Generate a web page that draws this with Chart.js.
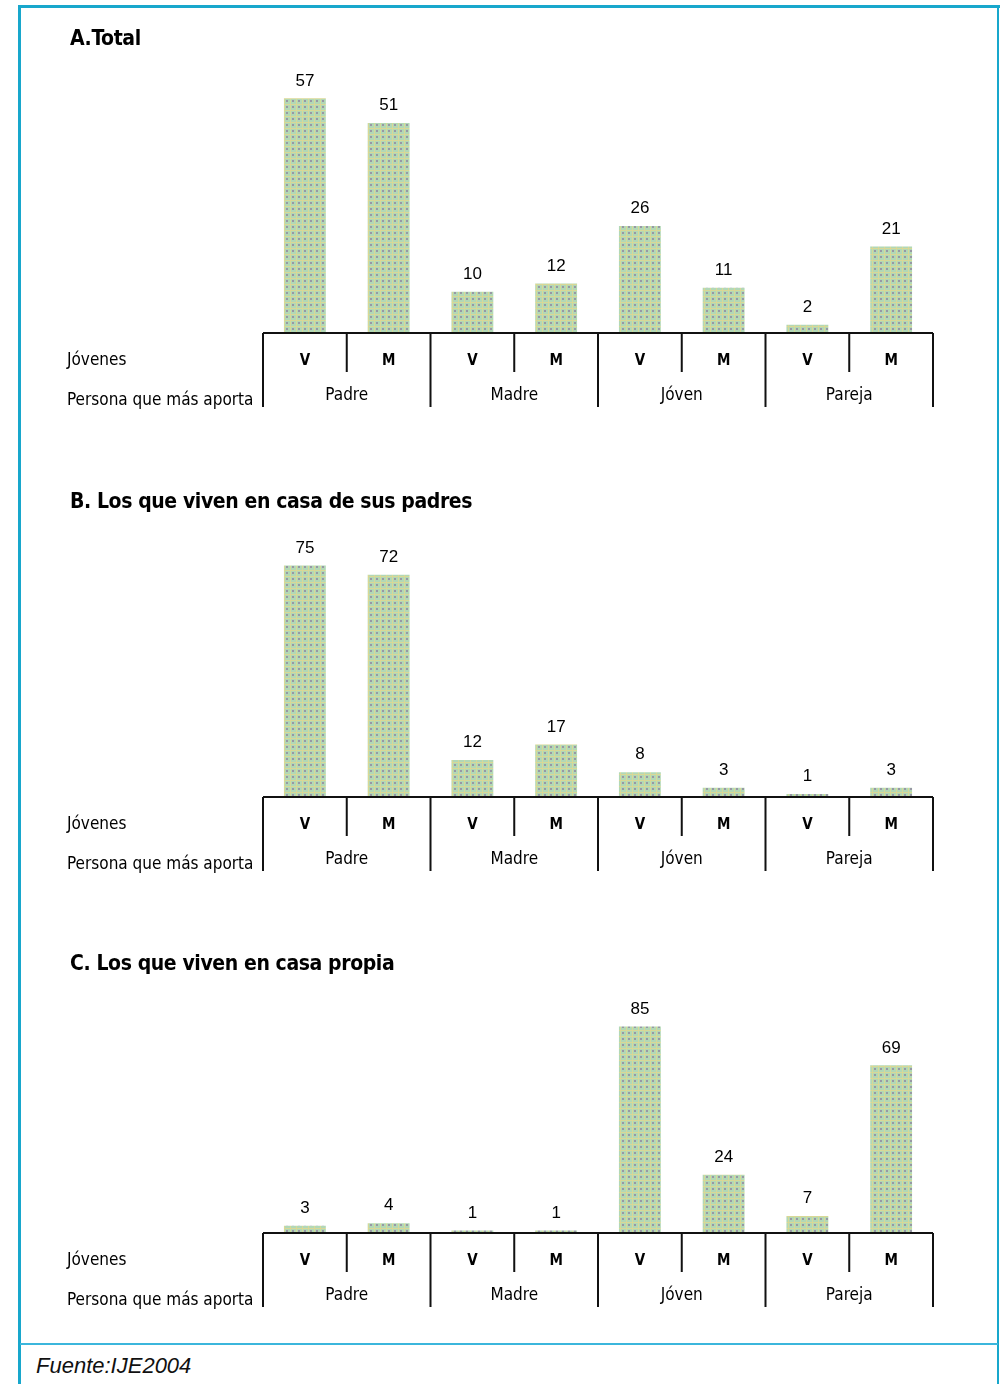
<!DOCTYPE html>
<html>
<head>
<meta charset="utf-8">
<script src="https://cdn.jsdelivr.net/npm/chart.js@4.4.1/dist/chart.umd.min.js"></script>
<style>
    body { margin: 0; background: #fff; }
    #page { position: relative; width: 1000px; height: 1384px; overflow: hidden; background: #fff; }
    .panel { position: absolute; left: 0; }
    .frame-left { position: absolute; left: 18px; top: 5px; width: 3px; height: 1379px; background: #18a7cc; }
    .frame-top { position: absolute; left: 18px; top: 5px; width: 982px; height: 3px; background: #18a7cc; }
    .frame-right { position: absolute; left: 997px; top: 5px; width: 2px; height: 1379px; background: #18a7cc; }
    .frame-foot { position: absolute; left: 20px; top: 1343px; width: 978px; height: 2px; background: #3bb6dc; }
    #source { position: absolute; left: 36px; top: 1353px; font: italic 22px "Liberation Sans", Arial, sans-serif; color: #111; }
</style>
</head>
<body>
<div id="page">
    <canvas id="chartA" class="panel" style="top:0px" width="1000" height="460"></canvas>
    <canvas id="chartB" class="panel" style="top:460px" width="1000" height="460"></canvas>
    <canvas id="chartC" class="panel" style="top:920px" width="1000" height="420"></canvas>
    <div class="frame-left"></div>
    <div class="frame-top"></div>
    <div class="frame-right"></div>
    <div class="frame-foot"></div>
    <div id="source">Fuente:IJE2004</div>
</div>

<script>
// Data
const groups = ['Padre', 'Madre', 'Jóven', 'Pareja'];
const sexes = ['V', 'M'];
const rowLabels = ['Jóvenes', 'Persona que más aporta'];

const totalValues = [57, 51, 10, 12, 26, 11, 2, 21];
const padresValues = [75, 72, 12, 17, 8, 3, 1, 3];
const propiaValues = [3, 4, 1, 1, 85, 24, 7, 69];

const panelTitles = [
    'A.Total',
    'B. Los que viven en casa de sus padres',
    'C. Los que viven en casa propia'
];

// one label per bar: group + sex
const categories = [];
groups.forEach(g => sexes.forEach(s => categories.push(g + ' ' + s)));

// Dotted green fill like the original bitmap
function makePattern() {
    const tile = document.createElement('canvas');
    tile.width = 6;
    tile.height = 6;
    const t = tile.getContext('2d');
    t.fillStyle = '#b2d8b6';
    t.fillRect(0, 0, 6, 6);
    t.fillStyle = '#d8d896';
    t.fillRect(0, 2, 6, 1);
    t.fillRect(2, 0, 1, 6);
    t.fillStyle = '#9898a4';
    t.fillRect(4, 4, 2, 2);
    return t.createPattern(tile, 'repeat');
}

// Draws title, value labels and the bracket axis under the bars
const panelDecor = {
    id: 'panelDecor',
    afterDatasetsDraw(chart, args, opts) {
        const ctx = chart.ctx;
        const x = chart.scales.x;
        const base = chart.scales.y.getPixelForValue(0);
        const meta = chart.getDatasetMeta(0);
        const values = chart.data.datasets[0].data;

        ctx.save();
        ctx.fillStyle = '#000';
        ctx.textBaseline = 'middle';

        // title
        ctx.font = 'bold 21px "DejaVu Sans Condensed", "DejaVu Sans", sans-serif';
        ctx.letterSpacing = '-0.4px';
        ctx.textAlign = 'left';
        ctx.fillText(opts.title, 70, opts.titleY);

        // values above bars
        ctx.letterSpacing = '0px';
        ctx.font = '17px "Liberation Sans", Arial, sans-serif';
        ctx.textAlign = 'center';
        ctx.textBaseline = 'bottom';
        meta.data.forEach((bar, i) => {
            ctx.fillText(String(values[i]), bar.x, bar.y - 9);
        });

        // bracket lines
        const step = x.getPixelForValue(1) - x.getPixelForValue(0);
        const left = x.getPixelForValue(0) - step / 2;
        const right = x.getPixelForValue(categories.length - 1) + step / 2;
        ctx.strokeStyle = '#111';
        ctx.lineWidth = 2;
        ctx.beginPath();
        ctx.moveTo(left, base);
        ctx.lineTo(right, base);
        for (let g = 0; g <= groups.length; g++) {
            const gx = left + g * 2 * step;
            ctx.moveTo(gx, base);
            ctx.lineTo(gx, base + 74);
            if (g < groups.length) {
                ctx.moveTo(gx + step, base);
                ctx.lineTo(gx + step, base + 39);
            }
        }
        ctx.stroke();

        // sex labels
        ctx.textBaseline = 'middle';
        ctx.font = 'bold 15px "DejaVu Sans Condensed", "DejaVu Sans", sans-serif';
        meta.data.forEach((bar, i) => {
            ctx.fillText(sexes[i % 2], x.getPixelForValue(i), base + 28);
        });

        // group labels
        ctx.font = '17px "DejaVu Sans Condensed", "DejaVu Sans", sans-serif';
        ctx.letterSpacing = '0px';
        groups.forEach((g, i) => {
            ctx.fillText(g, left + (i * 2 + 1) * step, base + 63);
        });

        // row labels
        ctx.textAlign = 'left';
        ctx.fillText(rowLabels[0], 67, base + 28);
        ctx.fillText(rowLabels[1], 67, base + 68);
        ctx.restore();
    }
};

function buildPanel(id, values, title, titleY, yMax, padTop, padBottom) {
    new Chart(document.getElementById(id), {
        type: 'bar',
        data: {
            labels: categories,
            datasets: [{
                data: values,
                backgroundColor: makePattern(),
                borderWidth: 0,
                barPercentage: 0.5,
                categoryPercentage: 1
            }]
        },
        options: {
            responsive: false,
            animation: false,
            layout: {
                padding: { left: 263, right: 67, top: padTop, bottom: padBottom }
            },
            scales: {
                x: { display: false },
                y: { display: false, min: 0, max: yMax }
            },
            plugins: {
                legend: { display: false },
                tooltip: { enabled: false },
                panelDecor: { title: title, titleY: titleY }
            }
        },
        plugins: [panelDecor]
    });
}

buildPanel('chartA', totalValues, panelTitles[0], 40, 60, 86, 127);
buildPanel('chartB', padresValues, panelTitles[1], 43, 80, 90, 123);
buildPanel('chartC', propiaValues, panelTitles[2], 45, 100, 70, 107);
</script>
</body>
</html>
